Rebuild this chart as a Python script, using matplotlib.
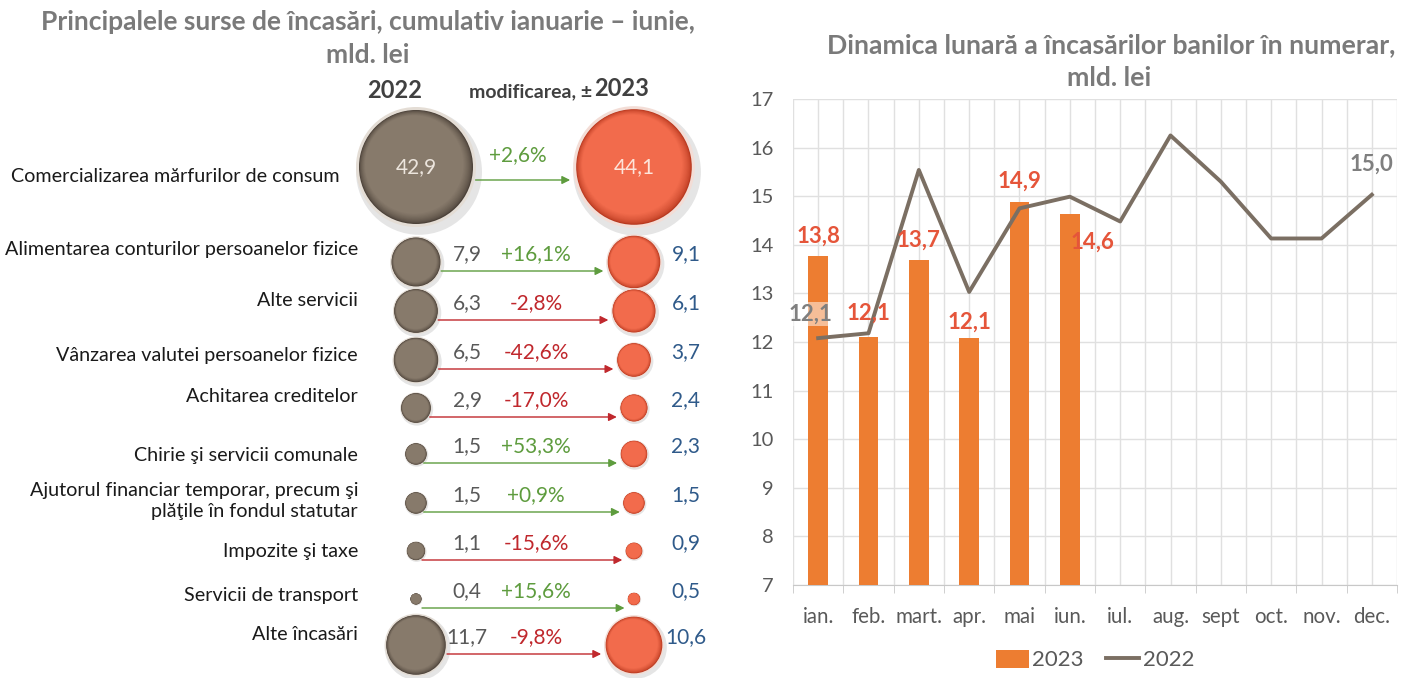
import numpy as np
import matplotlib
matplotlib.use("Agg")
import matplotlib.pyplot as plt
from matplotlib.patches import Circle, Patch
from matplotlib.lines import Line2D
from matplotlib.colors import to_rgb

plt.rcParams['font.family'] = ['Lato', 'DejaVu Sans']

# left panel data
categories = [
    "Comercializarea mărfurilor de consum",
    "Alimentarea conturilor persoanelor fizice",
    "Alte servicii",
    "Vânzarea valutei persoanelor fizice",
    "Achitarea creditelor",
    "Chirie şi servicii comunale",
    "Ajutorul financiar temporar, precum şi\nplăţile în fondul statutar",
    "Impozite şi taxe",
    "Servicii de transport",
    "Alte încasări",
]
vals_2022_src = [42.9, 7.9, 6.3, 6.5, 2.9, 1.5, 1.5, 1.1, 0.4, 11.7]
vals_2023_src = [44.1, 9.1, 6.1, 3.7, 2.4, 2.3, 1.5, 0.9, 0.5, 10.6]
change_pct = [2.6, 16.1, -2.8, -42.6, -17.0, 53.3, 0.9, -15.6, 15.6, -9.8]

# right panel data
months = ["ian.", "feb.", "mart.", "apr.", "mai", "iun.", "iul.", "aug.", "sept", "oct.", "nov.", "dec."]
monthly_2023 = [13.76, 12.10, 13.68, 12.08, 14.88, 14.63]
monthly_2022 = [12.08, 12.18, 15.54, 13.03, 14.75, 14.99, 14.48, 16.25, 15.30, 14.13, 14.13, 15.03]

# layout (pixels) for the bubble panel
row_y = [167, 262, 311, 360, 408, 454, 503, 551, 599, 645]
label_y = [177, 250, 300, 356, 397, 455, 501, 552, 595, 635]
x_left, x_right = 416, 634

W, H = 1412, 678
fig = plt.figure(figsize=(W / 100, H / 100), dpi=100)


def fmt(v):
    return f"{v:.1f}".replace(".", ",")


def mix(c1, c2, t):
    a, b = np.array(to_rgb(c1)), np.array(to_rgb(c2))
    return tuple(a + (b - a) * t)


def draw_bubble(ax, cx, cy, r, face, edge, rim):
    ax.add_patch(Circle((cx + r * 0.05, cy + r * 0.08), r * 1.05, fc='black', alpha=0.10, ec='none'))
    ax.add_patch(Circle((cx, cy), r, fc=rim, ec='none'))
    n = 10
    for i in range(n):
        t = i / (n - 1)
        ax.add_patch(Circle((cx - r * 0.03 * t, cy - r * 0.04 * t), r * (0.95 - 0.13 * t),
                            fc=mix(edge, face, t ** 0.6), ec='none'))


# ---- left panel: bubbles
axL = fig.add_axes([0, 0, 720 / W, 1])
axL.set_xlim(0, 720)
axL.set_ylim(H, 0)
axL.axis('off')

title_col = '#7A7A7A'
axL.text(368, 22, "Principalele surse de încasări, cumulativ ianuarie – iunie,", ha='center', va='center',
         fontsize=19, fontweight='bold', color=title_col)
axL.text(368, 55, "mld. lei", ha='center', va='center', fontsize=19, fontweight='bold', color=title_col)
axL.text(395, 90, "2022", ha='center', va='center', fontsize=17, fontweight='bold', color='#404040')
axL.text(592, 92, "modificarea, ±", ha='right', va='center', fontsize=14, fontweight='bold', color='#404040')
axL.text(594, 89, "2023", ha='left', va='center', fontsize=17, fontweight='bold', color='#404040')

k = 60 / np.sqrt(vals_2022_src[0])
green, red = '#5E9C3E', '#C0282D'
for i, cat in enumerate(categories):
    y = row_y[i]
    r1 = k * np.sqrt(vals_2022_src[i])
    r2 = k * np.sqrt(vals_2023_src[i])
    draw_bubble(axL, x_left, y, r1, '#877a6b', '#4b4138', '#e4ddd5')
    draw_bubble(axL, x_right, y, r2, '#f26b4c', '#b8391f', '#f3ddd6')

    c = green if change_pct[i] > 0 else red
    ay = y + (13 if i == 0 else 9)
    start = x_left + np.sqrt(max(r1 ** 2 - (ay - y) ** 2, 0)) + 1
    start = max(start, x_left + 6)
    end = x_right - r2 - 3
    axL.annotate('', xy=(end, ay), xytext=(start, ay),
                 arrowprops=dict(arrowstyle='-|>', color=c, lw=1.0, mutation_scale=12,
                                 shrinkA=0, shrinkB=0))
    pct = f"{change_pct[i]:+.1f}%".replace(".", ",")
    ty = y - 8
    if i == 0:
        axL.text(x_left, y, fmt(vals_2022_src[i]), ha='center', va='center', fontsize=15, color='#ece5dd')
        axL.text(x_right, y, fmt(vals_2023_src[i]), ha='center', va='center', fontsize=15, color='#fde4da')
        axL.text(518, ty - 4, pct, ha='center', va='center', fontsize=15, color=c)
    else:
        axL.text(467, ty, fmt(vals_2022_src[i]), ha='center', va='center', fontsize=15, color='#595959')
        axL.text(536, ty, pct, ha='center', va='center', fontsize=15, color=c)
        axL.text(686, ty, fmt(vals_2023_src[i]), ha='center', va='center', fontsize=15, color='#2f5a8a')

    lx = 340 if i == 0 else 358
    axL.text(lx, label_y[i], cat, ha='right', va='center', fontsize=14.2, color='#1a1a1a',
             multialignment='right', linespacing=1.35)

# ---- right panel: monthly dynamics
axR = fig.add_axes([793 / W, (H - 585) / H, (1397 - 793) / W, (585 - 99) / H])
x = np.arange(len(months))
axR.bar(x[:len(monthly_2023)], monthly_2023, width=0.39, color='#ED7D31', zorder=3)
axR.plot(x, monthly_2022, color='#7b6f63', lw=2.8, zorder=4)
axR.set_xlim(-0.5, 11.5)
axR.set_ylim(7, 17)
axR.set_yticks(range(7, 18))
axR.set_xticks(x)
axR.set_xticklabels(months)
axR.set_xticks(np.arange(-0.5, 12, 1), minor=True)
axR.grid(which='both', color='#e0e0e0', lw=1, zorder=0)
axR.tick_params(axis='x', which='major', length=0, pad=16, labelsize=14.8, labelcolor='#595959')
axR.tick_params(axis='x', which='minor', length=6, color='#c8c8c8')
axR.tick_params(axis='y', length=0, pad=14, labelsize=14.5, labelcolor='#595959')
for s in ['top', 'right', 'left']:
    axR.spines[s].set_visible(False)
axR.spines['bottom'].set_color('#c8c8c8')
axR.set_axisbelow(True)

lab_col = '#e5553a'
lab_kw = dict(ha='center', va='center', fontsize=16, fontweight='bold', zorder=6)
axR.text(0, monthly_2023[0] + 0.42, fmt(monthly_2023[0]), color=lab_col, **lab_kw)
axR.text(1, monthly_2023[1] + 0.5, fmt(monthly_2023[1]), color=lab_col, **lab_kw)
axR.text(2, monthly_2023[2] + 0.42, fmt(monthly_2023[2]), color=lab_col, **lab_kw)
axR.text(3, monthly_2023[3] + 0.32, fmt(monthly_2023[3]), color=lab_col, **lab_kw)
axR.text(4, monthly_2023[4] + 0.42, fmt(monthly_2023[4]), color=lab_col, **lab_kw)
axR.text(5.45, monthly_2023[5] - 0.58, fmt(monthly_2023[5]), color=lab_col, **lab_kw)
axR.text(-0.16, monthly_2022[0] + 0.5, fmt(monthly_2022[0]), color='#7f7f7f',
         bbox=dict(fc='white', ec='none', alpha=0.5, pad=1), **lab_kw)
axR.text(11, monthly_2022[-1] + 0.62, fmt(monthly_2022[-1]), color='#7f7f7f', **lab_kw)

fig.text(1111 / W, 1 - 45 / H, "Dinamica lunară a încasărilor banilor în numerar,", ha='center', va='center',
         fontsize=19.2, fontweight='bold', color=title_col)
fig.text(1109 / W, 1 - 78 / H, "mld. lei", ha='center', va='center', fontsize=19.2, fontweight='bold',
         color=title_col)

handles = [Patch(facecolor='#ED7D31', edgecolor='none', label='2023'),
           Line2D([0], [0], color='#7b6f63', lw=2.8, label='2022')]
fig.legend(handles=handles, loc='center', bbox_to_anchor=(1095 / W, 1 - 660 / H), ncol=2, frameon=False,
           fontsize=16, handlelength=1.5, handleheight=0.9, handletextpad=0.15, columnspacing=1.0,
           labelcolor='#595959')

fig.savefig("out.png", dpi=100)
